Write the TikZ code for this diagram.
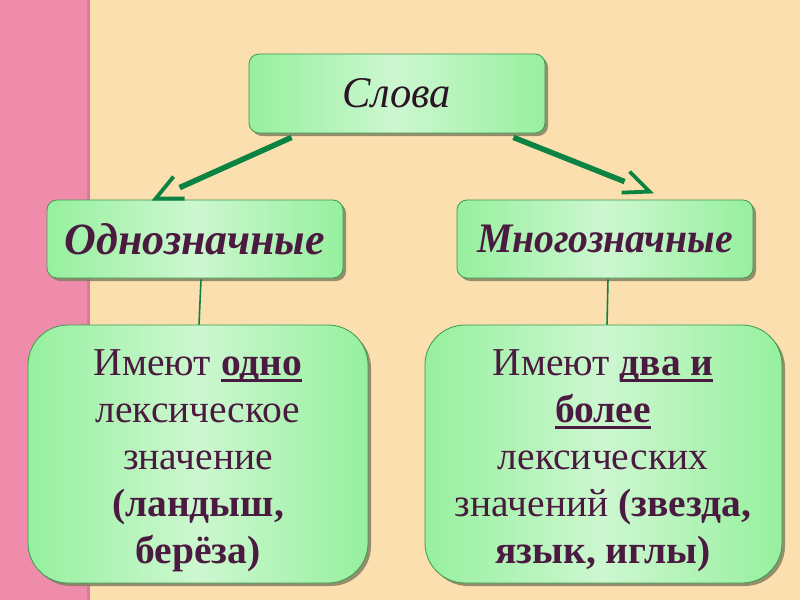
\documentclass[tikz,border=0pt]{standalone}
\usepackage{fontspec}
\usepackage{graphicx}
\setmainfont{Liberation Serif}
\usetikzlibrary{calc,shadows}
\definecolor{pinkbg}{HTML}{EF8CAC}
\definecolor{pinkedge}{HTML}{D87A98}
\definecolor{creambg}{HTML}{FCDFAE}
\definecolor{boxedge}{HTML}{96F09E}
\definecolor{boxmid}{HTML}{CDF7D0}
\definecolor{boxline}{HTML}{3A9A4E}
\definecolor{txt}{HTML}{4B1A40}
\definecolor{titletxt}{HTML}{2A1426}
\definecolor{arr}{HTML}{0B8443}
\definecolor{shadowc}{HTML}{857F62}
\newcommand\myul[1]{\setbox0=\hbox{#1}\dp0=0pt\vtop{\box0\kern4pt\hrule height 2.5pt}}
\tikzset{
  box/.style={draw=boxline, line width=0.8pt, left color=boxedge, right color=boxedge, middle color=boxmid,
    drop shadow={shadow xshift=3pt, shadow yshift=-3pt, fill=shadowc, opacity=0.85}},
  smallbox/.style={box, rounded corners=10pt, inner sep=0pt},
  bigbox/.style={box, rounded corners=40pt, inner sep=0pt},
  body/.style={anchor=base, text=txt, font=\fontsize{39.5}{46}\selectfont, inner sep=0pt},
  shaft/.style={draw=arr, line width=5.5pt, line cap=butt},
  barb/.style={draw=arr, line width=3.8pt, line cap=butt, line join=miter},
  vline/.style={draw=arr, line width=1.6pt}
}
\begin{document}
\begin{tikzpicture}[x=1pt,y=-1pt]
\useasboundingbox (0,0) rectangle (800,600);
\fill[creambg] (0,0) rectangle (800,600);
\fill[pinkbg] (0,0) rectangle (88,600);
\fill[pinkedge] (87,0) rectangle (90,600);

\node[smallbox, minimum width=296pt, minimum height=79pt] (slova) at (397,93.5)
  {\color{titletxt}\resizebox{108pt}{29pt}{\itshape Слова}};
\node[smallbox, minimum width=296pt, minimum height=78pt] (odno) at (195,239)
  {\color{txt}\resizebox{260pt}{31pt}{\bfseries\itshape Однозначные}};
\node[smallbox, minimum width=296pt, minimum height=78pt] (mnogo) at (605,239)
  {\color{txt}\resizebox{256pt}{27.5pt}{\bfseries\itshape Многозначные}};

\node[bigbox, minimum width=340pt, minimum height=258pt] (lbox) at (198,454) {};
\node[bigbox, minimum width=357pt, minimum height=258pt] (rbox) at (603.5,454) {};

% left text
\node[body] (l1) at (198,375) {Имеют \myul{\bfseries одно}};
\node[body] (l2) at (198,422) {лексическое};
\node[body] (l3) at (198,469) {значение};
\node[body] (l4) at (198,516) {\bfseries (ландыш,};
\node[body] (l5) at (198,563) {\bfseries берёза)};
% right text
\node[body] (r1) at (603,375) {Имеют \myul{\bfseries два и}};
\node[body] (r2) at (603,422) {\myul{\bfseries более}};
\node[body] (r3) at (603,469) {лексических};
\node[body] (r4) at (603,516) {значений \textbf{(звезда,}};
\node[body] (r5) at (603,563) {\bfseries язык, иглы)};

% arrows
\coordinate (la0) at ($(slova.south west)+(43,4)$);
\coordinate (latip) at ($(odno.north west)+(109,-1)$);
\coordinate (la1) at ($(latip)+(24,-11)$);
\coordinate (lab1) at ($(latip)+(18,-22)$);
\coordinate (lab2) at ($(latip)+(29,0)$);
\draw[shaft] (la0) -- (la1);
\draw[barb] (lab1) -- (latip) -- (lab2);

\coordinate (ra0) at ($(slova.south east)+(-32,4)$);
\coordinate (ratip) at ($(mnogo.north west)+(193,-8)$);
\coordinate (ra1) at ($(ratip)+(-25,-10)$);
\coordinate (rab1) at ($(ratip)+(-20,-20)$);
\coordinate (rab2) at ($(ratip)+(-28,1)$);
\draw[shaft] (ra0) -- (ra1);
\draw[barb] (rab1) -- (ratip) -- (rab2);

% vertical connectors
\draw[vline] ($(odno.south)+(6,1)$) -- ($(lbox.north)+(1,0)$);
\draw[vline] ($(mnogo.south)+(3,1)$) -- ($(rbox.north)+(3.5,0)$);
\end{tikzpicture}
\end{document}
